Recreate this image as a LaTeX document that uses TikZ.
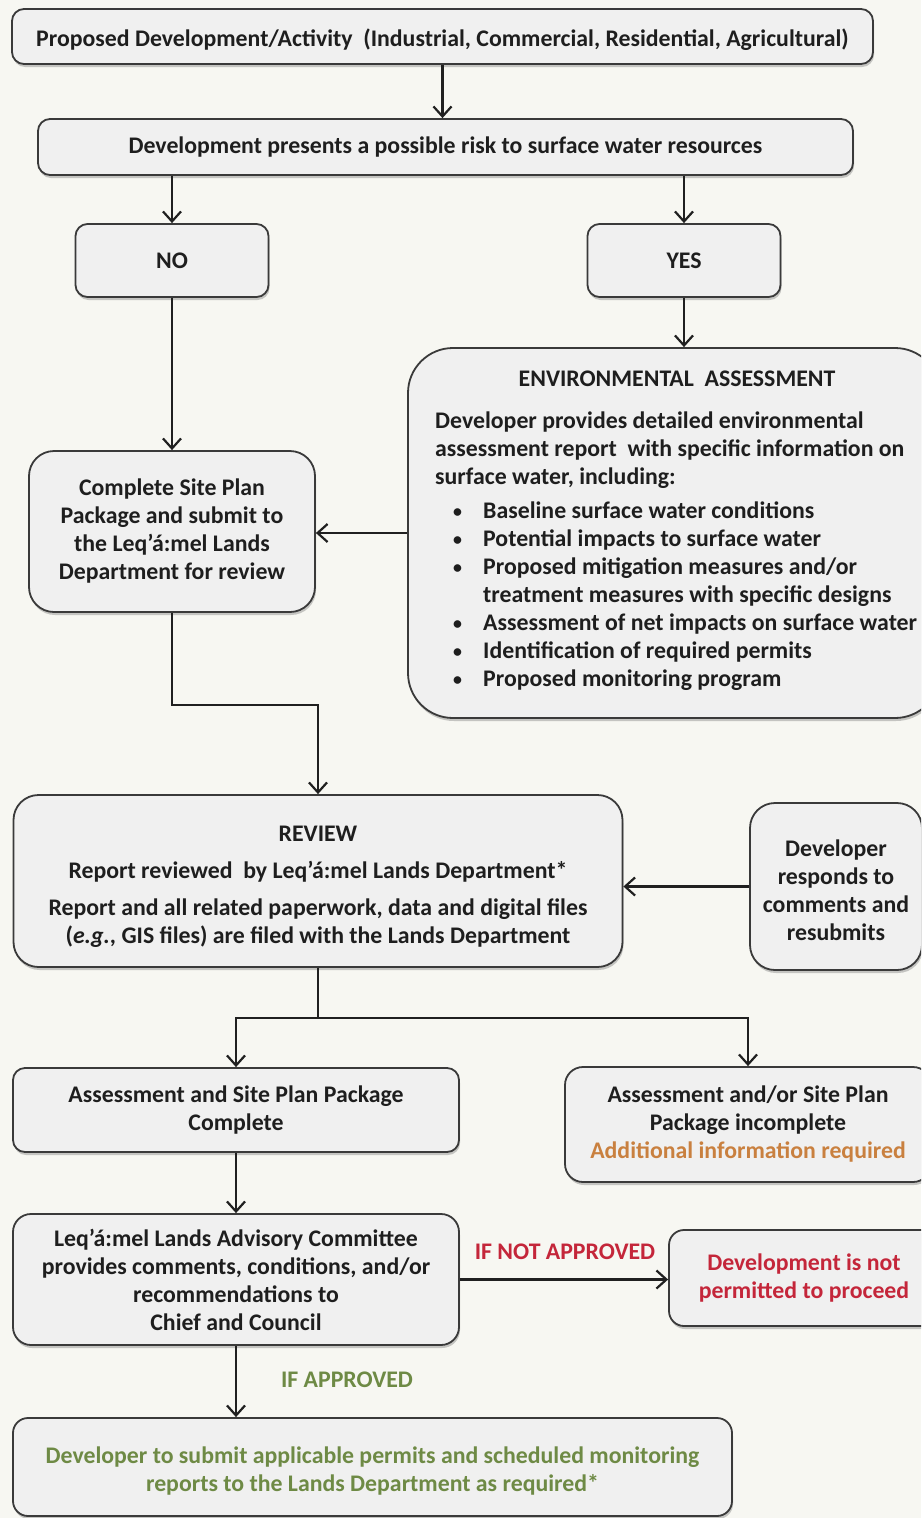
\documentclass[tikz,border=0pt]{standalone}
\usepackage{fontspec}
\setmainfont{Carlito}
\usetikzlibrary{arrows.meta,shadows}
\definecolor{bg}{HTML}{F7F7F2}
\definecolor{boxfill}{HTML}{F0F0F0}
\definecolor{boxline}{HTML}{3A3A3A}
\definecolor{txtblack}{HTML}{1E1E1E}
\definecolor{linecol}{HTML}{202020}
\definecolor{redtxt}{HTML}{C4263A}
\definecolor{orangetxt}{HTML}{C9803F}
\definecolor{greentxt}{HTML}{6E8A45}
\newcommand{\bul}{\hspace*{18pt}\makebox[30pt][l]{\raisebox{1pt}{\scalebox{0.75}{•}}}}
\begin{document}
\begin{tikzpicture}[x=1pt,y=-1pt,
  box/.style={draw=boxline, line width=1.8pt, fill=boxfill, rounded corners=#1,
    inner sep=0pt, align=center, text=txtblack,
    font=\fontsize{23.8}{28}\selectfont\bfseries,
    drop shadow={shadow xshift=1pt, shadow yshift=-3pt, opacity=0.35, fill=black!60}},
  box/.default=12pt,
  txt/.style={inner sep=0pt, text=txtblack, font=\fontsize{23.8}{28}\selectfont\bfseries},
  lbl/.style={inner sep=0pt, font=\fontsize{23.8}{28}\selectfont\bfseries},
  arr/.style={draw=linecol, line width=2.2pt, -{Straight Barb[length=10pt,width=18pt]}},
  ln/.style={draw=linecol, line width=2.2pt}
]
\useasboundingbox (0,0) rectangle (921,1518);
\clip (0,0) rectangle (921,1518);
\fill[bg] (0,0) rectangle (921,1518);

% boxes
\node[box, minimum width=861pt, minimum height=55pt] (b1) at (442.5,36.5) {};
\node[txt] (b1txt) at ([yshift=-3pt]b1.center)
  {Proposed Development/Activity\ \ (Industrial, Commercial, Residential, Agricultural)};
\node[box, minimum width=815pt, minimum height=56pt] (b2) at (445.5,147)
  {Development presents a possible risk to surface water resources};
\node[box, minimum width=193pt, minimum height=73pt] (no) at (172,260.5) {NO};
\node[box, minimum width=193pt, minimum height=73pt] (yes) at (684,260.5) {YES};
\node[box=45pt, minimum width=532pt, minimum height=370pt] (env) at (674,533) {};
\node[box=25pt, minimum width=286pt, minimum height=161pt] (site) at (172,531.5)
  {Complete Site Plan\\Package and submit to\\the Leq’á:mel Lands\\Department for review};
\node[box=25pt, minimum width=609pt, minimum height=172pt] (review) at (318,881) {};
\node[txt, align=center] (reviewtxt) at ([yshift=-6pt]review.center)
  {REVIEW\\[9pt]Report reviewed\ \ by Leq’á:mel Lands Department*\\[9pt]Report and all related paperwork, data and digital files\\(\textit{e.g.}, GIS files) are filed with the Lands Department};
\node[box=25pt, minimum width=172pt, minimum height=167pt] (dev) at (836,886.5) {};
\node[txt, align=center] (devtxt) at ([yshift=-4pt]dev.center)
  {Developer\\responds to\\comments and\\resubmits};
\node[box, minimum width=446pt, minimum height=84pt] (complete) at (236,1110)
  {Assessment and Site Plan Package\\Complete};
\node[box=18pt, minimum width=366pt, minimum height=115pt] (incomplete) at (748,1124.5)
  {Assessment and/or Site Plan\\Package incomplete\\{\color{orangetxt}Additional information required}};
\node[box=18pt, minimum width=446pt, minimum height=131pt] (committee) at (236,1279.5)
  {Leq’á:mel Lands Advisory Committee\\provides comments, conditions, and/or\\recommendations to\\Chief and Council};
\node[box=15pt, minimum width=270pt, minimum height=96pt, text=redtxt] (notperm) at (804,1278)
  {Development is not\\permitted to proceed};
\node[box=15pt, minimum width=719pt, minimum height=98pt] (final) at (372.5,1467) {};
\node[txt, align=center, text=greentxt] (finaltxt) at ([yshift=-4pt]final.center)
  {Developer to submit applicable permits and scheduled monitoring\\reports to the Lands Department as required*};

% environmental assessment text
\node[txt, anchor=base] (envtitle) at (677,386) {ENVIRONMENTAL\ \ ASSESSMENT};
\node[txt, anchor=north west, align=left] (envbody) at (435,411.5)
  {Developer provides detailed environmental\\
   assessment report\ \ with specific information on\\
   surface water, including:\\[6pt]
   \bul Baseline surface water conditions\\
   \bul Potential impacts to surface water\\
   \bul Proposed mitigation measures and/or\\
   \hspace*{48pt}treatment measures with specific designs\\
   \bul Assessment of net impacts on surface water\\
   \bul Identification of required permits\\
   \bul Proposed monitoring program};

% connectors
\draw[arr] (b1.south) -- (b1.south |- b2.north);
\draw[arr] (no.north |- b2.south) -- (no.north);
\draw[arr] (yes.north |- b2.south) -- (yes.north);
\draw[arr] (yes.south) -- (yes.south |- env.north);
\draw[arr] (no.south) -- (site.north);
\draw[arr] (env.west) -- (env.west -| site.east);
\draw[arr] (site.south) -- ++(0,92) -| (review.north);
\draw[arr] (dev.west) -- (dev.west -| review.east);
\draw[ln] (review.south) -- ++(0,50) coordinate (split);
\draw[arr] (split) -| (complete.north);
\draw[arr] (split) -| (incomplete.north);
\draw[arr] (complete.south) -- (committee.north);
\draw[arr] (committee.east) -- (committee.east -| notperm.west);
\draw[arr] (committee.south) -- (committee.south |- final.north);

% labels
\node[lbl, text=redtxt] (notlbl) at (565,1252) {IF NOT APPROVED};
\node[lbl, text=greentxt] (aplbl) at (347,1380) {IF APPROVED};
\end{tikzpicture}
\end{document}
